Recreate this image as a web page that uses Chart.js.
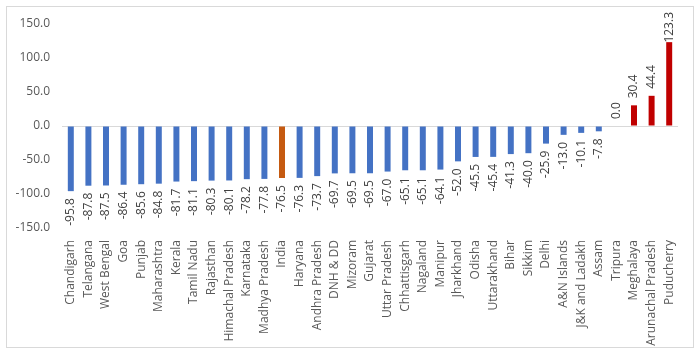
<!DOCTYPE html>
<html>
<head>
<meta charset="utf-8">
<script src="https://cdn.jsdelivr.net/npm/chart.js@4/dist/chart.umd.min.js"></script>
<style>
  html, body { margin: 0; padding: 0; background: #fff; }
  #wrap { position: absolute; left: 0; top: 0; width: 699px; height: 354px; }
</style>
</head>
<body>
<div id="wrap"><canvas id="c" width="699" height="354"></canvas></div>
<script>
const categories = ["Chandigarh","Telangana","West Bengal","Goa","Punjab","Maharashtra","Kerala","Tamil Nadu","Rajasthan","Himachal Pradesh","Karnataka","Madhya Pradesh","India","Haryana","Andhra Pradesh","DNH & DD","Mizoram","Gujarat","Uttar Pradesh","Chhattisgarh","Nagaland","Manipur","Jharkhand","Odisha","Uttarakhand","Bihar","Sikkim","Delhi","A&N Islands","J&K and Ladakh","Assam","Tripura","Meghalaya","Arunachal Pradesh","Puducherry"];
const values = [-95.8,-87.8,-87.5,-86.4,-85.6,-84.8,-81.7,-81.1,-80.3,-80.1,-78.2,-77.8,-76.5,-76.3,-73.7,-69.7,-69.5,-69.5,-67.0,-65.1,-65.1,-64.1,-52.0,-45.5,-45.4,-41.3,-40.0,-25.9,-13.0,-10.1,-7.8,0.0,30.4,44.4,123.3];
const yTicks = [-150,-100,-50,0,50,100,150];
const highlight = "India";

const FONT = "'Open Sans', 'Liberation Sans', sans-serif";
const barColors = categories.map((c, i) => c === highlight ? '#C55A11' : (values[i] > 0 ? '#C00000' : '#4472C4'));

const borderPlugin = {
  id: 'frame',
  beforeDraw(chart) {
    const ctx = chart.ctx;
    ctx.save();
    ctx.fillStyle = '#fff';
    ctx.fillRect(0, 0, chart.width, chart.height);
    ctx.strokeStyle = '#d9d9d9';
    ctx.lineWidth = 1;
    ctx.strokeRect(6.5, 6.5, 687, 341);
    ctx.restore();
  }
};

const labelPlugin = {
  id: 'valueLabels',
  afterDatasetsDraw(chart) {
    const ctx = chart.ctx;
    const meta = chart.getDatasetMeta(0);
    ctx.save();
    ctx.font = '12px ' + FONT;
    ctx.fillStyle = '#404040';
    ctx.textBaseline = 'middle';
    meta.data.forEach((el, i) => {
      const v = values[i];
      const txt = v.toFixed(1);
      const gap = 7;
      ctx.save();
      if (v < 0) {
        ctx.translate(el.x, el.y + gap);
        ctx.rotate(-Math.PI / 2);
        ctx.textAlign = 'right';
      } else {
        const w = ctx.measureText(txt).width;
        let y = el.y - gap;
        if (y - w < 12) y = 12 + w;
        ctx.translate(el.x, y);
        ctx.rotate(-Math.PI / 2);
        ctx.textAlign = 'left';
      }
      ctx.fillText(txt, 0, 0);
      ctx.restore();
    });
    ctx.restore();
  }
};

new Chart(document.getElementById('c'), {
  type: 'bar',
  data: {
    labels: categories,
    datasets: [{
      data: values,
      backgroundColor: barColors,
      barPercentage: 0.34,
      categoryPercentage: 1.0
    }]
  },
  options: {
    responsive: false,
    animation: false,
    layout: { padding: { left: 0, right: 21, top: 24, bottom: 0 } },
    plugins: { legend: { display: false }, tooltip: { enabled: false } },
    scales: {
      x: {
        grid: { display: false, drawTicks: false },
        border: { display: false },
        ticks: {
          autoSkip: false, minRotation: 90, maxRotation: 90, padding: 12,
          color: '#595959', font: { family: FONT, size: 12 }
        },
        afterFit(s) { s.height = 126; }
      },
      y: {
        min: -150, max: 150,
        afterBuildTicks(s) { s.ticks = yTicks.map(v => ({ value: v })); },
        grid: {
          drawTicks: false,
          color: ctx => (ctx.tick && ctx.tick.value === 0) ? '#d9d9d9' : 'rgba(0,0,0,0)',
          lineWidth: 1
        },
        border: { display: false },
        ticks: {
          padding: 12, color: '#595959', font: { family: FONT, size: 12 },
          callback: v => Number(v).toFixed(1)
        },
        afterFit(s) { s.width = 62; }
      }
    }
  },
  plugins: [borderPlugin, labelPlugin]
});
</script>
</body>
</html>
